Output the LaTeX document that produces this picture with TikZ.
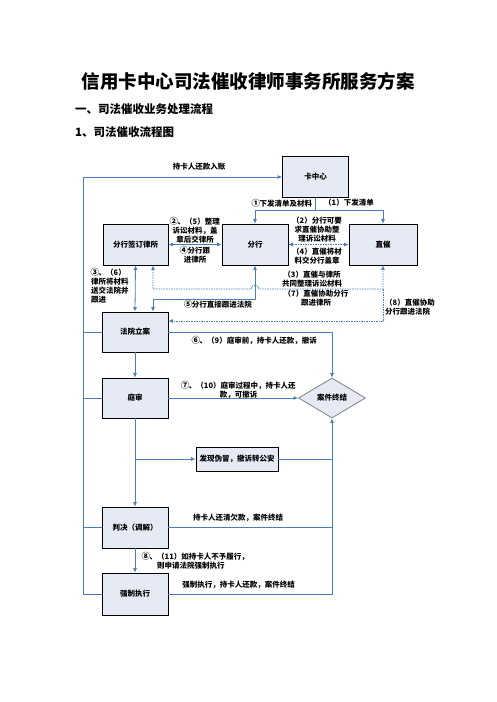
\documentclass[tikz,border=0pt]{standalone}
\usepackage{fontspec}
\setmainfont{Noto Sans CJK SC}
\usetikzlibrary{arrows.meta,shapes.geometric}
\definecolor{lnblue}{HTML}{4A7EBB}
\definecolor{boxfill}{HTML}{E6EAF5}
\newcommand{\cnum}[1]{\makebox[1em][c]{\fontsize{8.5}{9}\selectfont #1}}
\begin{document}
\begin{tikzpicture}[x=1pt,y=-1pt,
 box/.style={draw=black,line width=0.8pt,fill=boxfill,minimum width=66pt,minimum height=41pt,inner sep=0pt,font=\fontsize{7.5}{9}\selectfont\bfseries},
 ln/.style={draw=lnblue,line width=0.8pt},
 dsh/.style={ln,dash pattern=on 1.5pt off 1pt},
 tip/.style={-{Latex[length=4.5pt,width=4pt]}},
 tips/.style={{Latex[length=4.5pt,width=4pt]}-{Latex[length=4.5pt,width=4pt]}},
 lbl/.style={font=\fontsize{7.5}{9}\selectfont\bfseries,inner sep=0pt,align=center}]
\fill[white] (0,0) rectangle (496,702);
\useasboundingbox (0,0) rectangle (496,702);

% titles
\node[font=\fontsize{18.5}{20}\selectfont\bfseries,inner sep=0pt] (title) at (248,81) {信用卡中心司法催收律师事务所服务方案};
\node[font=\fontsize{11.5}{13}\selectfont\bfseries,inner sep=0pt,anchor=west] (h1) at (75,109) {一、司法催收业务处理流程};
\node[font=\fontsize{11.5}{13}\selectfont\bfseries,inner sep=0pt,anchor=west] (h2) at (75,132) {1、司法催收流程图};

% boxes
\node[box] (kzx) at (315.5,177) {卡中心};
\node[box,minimum width=65pt] (fhls) at (135.5,244.5) {分行签订律所};
\node[box] (fh) at (255,244.5) {分行};
\node[box,minimum width=68pt] (zc) at (383,244.5) {直催};
\node[box,minimum height=40pt] (fy) at (135,332) {法院立案};
\node[box,minimum height=40pt] (ts) at (135,398) {庭审};
\node[draw=gray,line width=0.8pt,fill=boxfill,shape=diamond,minimum width=67pt,minimum height=40pt,inner sep=0pt,font=\fontsize{7.5}{9}\selectfont\bfseries] (an) at (332,398) {案件终结};
\node[box,minimum width=82pt,minimum height=24pt] (fx) at (237,459) {发现伪冒，撤诉转公安};
\node[box] (pj) at (135,527.5) {判决（调解）};
\node[box,minimum height=42pt] (qz) at (135,594) {强制执行};

% helper coordinates
\coordinate (ks) at (315.5,210);
\coordinate (L) at (83,177);
\coordinate (c5) at (255,299);
\coordinate (c5b) at (153,299);
\coordinate (d1) at (153,289);
\coordinate (j1) at (251,289);
\coordinate (j2) at (259,289);
\coordinate (d2) at (383,289);
\coordinate (d8) at (383,321);

% top distribution
\draw[ln] (kzx.south) -- (ks);
\draw[ln,tip] (ks) -| (fh.north);
\draw[ln,tip] (ks) -| (zc.north);

% left return loop
\draw[ln,tip] (qz.west) -| (L) -- (kzx.west);
\draw[ln] (fy.west) -- (fy.west -| L);
\draw[ln] (ts.west) -- (ts.west -| L);
\draw[ln] (pj.west) -- (pj.west -| L);

% middle row
\draw[ln,tips] (fhls.east) -- (fh.west);
\draw[dsh,tips] (fh.east) -- (zc.west);
\draw[ln,tips] (fhls.south) -- (fy.north);
\draw[ln,tips] (fh.south) -- (c5) -- (c5b) -- (c5b |- fy.north);
\draw[dsh,tips] (d1 |- fhls.south) -- (d1) -- (j1) .. controls (251,284) and (259,284) .. (j2) -- (d2) -- (zc.south);
\draw[dsh,tip] (d2) -- (d8) -- (d8 -| fy.east);

% to case end
\draw[ln,tip] (fy.east) -| (an.north);
\draw[ln,tip] (ts.east) -- (an.west);
\draw[ln,tip] (fy.south) -- (ts.north);
\draw[ln,tip] (ts.south) -- (pj.north);
\draw[ln,tip] (ts.south |- fx.west) -- (fx.west);
\draw[ln] (fx.east) -- (fx.east -| an.south);
\draw[ln] (pj.east) -- (pj.east -| an.south);
\draw[ln,tip] (qz.east) -| (an.south);
\draw[ln,tip] (pj.south) -- (qz.north);

% labels
\node[lbl] (t0) at (199,167) {持卡人还款入账};
\node[lbl] (t1) at (282,203) {\cnum{①}下发清单及材料};
\node[lbl] (t2) at (349,203) {（1）下发清单};
\node[lbl] (t3) at (195,230) {\cnum{②}、（5）整理\\诉讼材料，盖\\章后交律所};
\node[lbl] (t4) at (195,255) {\cnum{④}分行跟\\进律所};
\node[lbl] (t5) at (317,229.5) {（2）分行可要\\求直催协助整\\理诉讼材料};
\node[lbl] (t6) at (317,256) {（4）直催将材\\料交分行盖章};
\node[lbl,align=left,anchor=west] (t7) at (91,286) {\cnum{③}、（6）\\律所将材料\\送交法院并\\跟进};
\node[lbl] (t8) at (312,279.5) {（3）直催与律所\\共同整理诉讼材料};
\node[lbl] (t9) at (316,298.5) {（7）直催协助分行\\跟进律所};
\node[lbl] (t10) at (218,304.5) {\cnum{⑤}分行直接跟进法院};
\node[lbl,align=left,anchor=west] (t11) at (385,307.5) {（8）直催协助\\分行跟进法院};
\node[lbl] (t12) at (254.5,340) {\cnum{⑥}、（9）庭审前，持卡人还款，撤诉};
\node[lbl] (t13) at (238.5,389.5) {\cnum{⑦}、（10）庭审过程中，持卡人还\\款，可撤诉};
\node[lbl] (t14) at (238,518) {持卡人还清欠款，案件终结};
\node[lbl,align=left,anchor=west] (t15) at (142,560.5) {\cnum{⑧}、（11）如持卡人不予履行，\\\hspace*{2em}则申请法院强制执行};
\node[lbl] (t16) at (238.5,585) {强制执行，持卡人还款，案件终结};
\end{tikzpicture}
\end{document}
